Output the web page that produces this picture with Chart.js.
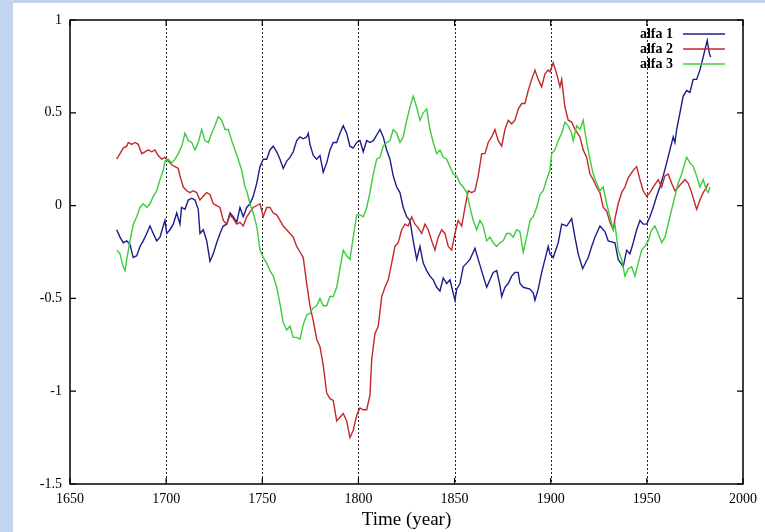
<!DOCTYPE html>
<html>
<head>
<meta charset="utf-8">
<script src="https://cdn.jsdelivr.net/npm/chart.js@4/dist/chart.umd.min.js"></script>
<style>
  html, body { margin: 0; padding: 0; }
  body { width: 765px; height: 532px; background: #c3d4ee; position: relative; overflow: hidden; }
  #chart { position: absolute; left: 13px; top: 3px; background: #fff; }
</style>
</head>
<body>
<canvas id="chart" width="752" height="529"></canvas>
<script>
// ─── DATA ────────────────────────────────────────────────────────────────────

const seriesLabels = ['alfa 1', 'alfa 2', 'alfa 3'];
const xTickValues  = [1650, 1700, 1750, 1800, 1850, 1900, 1950, 2000];
const yTickValues  = [-1.5, -1, -0.5, 0, 0.5, 1];
const axisTitle    = 'Time (year)';

const alfa1Years = [1674.3,1676.0,1677.7,1679.5,1681.2,1682.9,1684.7,1686.4,1688.1,1689.9,
  1691.6,1693.3,1695.1,1696.8,1698.5,1699.4,1700.3,1702.0,1703.7,1705.5,
  1707.2,1708.0,1709.8,1711.5,1713.3,1715.0,1716.7,1717.6,1719.3,1721.1,
  1722.8,1724.5,1726.3,1728.0,1729.7,1731.5,1733.2,1734.9,1736.7,1738.4,
  1740.1,1741.9,1743.6,1745.3,1747.1,1748.8,1750.5,1752.3,1754.0,1755.7,
  1757.5,1759.2,1760.9,1762.7,1764.4,1766.1,1767.9,1769.6,1771.3,1773.1,
  1773.9,1774.8,1776.5,1778.3,1780.0,1781.7,1783.5,1785.2,1786.9,1788.7,
  1790.4,1792.1,1793.9,1795.6,1797.3,1799.1,1800.8,1802.5,1804.3,1806.0,
  1807.7,1809.5,1811.2,1812.9,1814.7,1816.4,1818.1,1819.9,1821.6,1823.3,
  1825.1,1826.8,1828.5,1830.3,1832.0,1833.7,1835.5,1837.2,1838.9,1840.7,
  1842.4,1844.1,1845.9,1847.6,1850.2,1851.1,1852.8,1854.5,1856.3,1858.0,
  1860.6,1862.3,1864.9,1866.7,1868.4,1870.1,1871.9,1873.6,1874.5,1876.2,
  1877.9,1879.7,1881.4,1883.1,1884.0,1885.7,1889.2,1890.9,1891.8,1893.5,
  1895.3,1897.0,1898.7,1899.6,1901.3,1903.9,1905.7,1908.3,1910.9,1912.6,
  1914.3,1916.6,1919.5,1921.3,1923.0,1925.6,1928.2,1929.9,1933.4,1935.1,
  1937.7,1939.5,1941.2,1942.9,1944.7,1946.4,1948.1,1949.9,1951.6,1953.3,
  1955.1,1956.8,1958.5,1960.3,1962.0,1963.7,1964.6,1965.5,1967.2,1968.9,
  1970.7,1972.4,1974.1,1975.9,1977.6,1979.3,1980.2,1981.4,1982.5,1983.2];
const alfa1Values = [-0.13,-0.17,-0.20,-0.19,-0.21,-0.28,-0.27,-0.22,-0.19,-0.15,
  -0.11,-0.15,-0.19,-0.17,-0.11,-0.08,-0.15,-0.13,-0.10,-0.04,
  -0.10,-0.01,-0.02,0.03,0.04,0.03,-0.02,-0.15,-0.13,-0.19,
  -0.30,-0.26,-0.20,-0.15,-0.11,-0.10,-0.04,-0.06,-0.09,-0.01,
  -0.06,-0.01,0.01,0.05,0.12,0.21,0.25,0.25,0.30,0.32,
  0.29,0.25,0.20,0.24,0.26,0.29,0.35,0.37,0.36,0.37,
  0.39,0.33,0.27,0.25,0.27,0.18,0.23,0.30,0.34,0.34,
  0.39,0.43,0.39,0.32,0.31,0.34,0.35,0.29,0.35,0.34,
  0.35,0.38,0.41,0.37,0.30,0.25,0.16,0.10,0.07,-0.01,
  -0.06,-0.08,-0.19,-0.29,-0.22,-0.31,-0.35,-0.38,-0.40,-0.44,
  -0.46,-0.39,-0.42,-0.40,-0.51,-0.45,-0.42,-0.33,-0.31,-0.29,
  -0.23,-0.29,-0.38,-0.44,-0.40,-0.36,-0.35,-0.43,-0.49,-0.44,
  -0.42,-0.38,-0.36,-0.36,-0.42,-0.44,-0.45,-0.47,-0.51,-0.45,
  -0.36,-0.29,-0.22,-0.26,-0.28,-0.20,-0.10,-0.11,-0.07,-0.17,
  -0.26,-0.34,-0.28,-0.22,-0.17,-0.11,-0.14,-0.19,-0.20,-0.29,
  -0.33,-0.24,-0.26,-0.20,-0.13,-0.08,-0.10,-0.10,-0.06,-0.01,
  0.05,0.10,0.16,0.23,0.30,0.37,0.34,0.41,0.50,0.59,
  0.62,0.61,0.68,0.68,0.73,0.80,0.84,0.89,0.82,0.80];

const alfa2Years = [1674.3,1676.0,1677.7,1679.5,1680.3,1682.1,1683.8,1685.5,1687.3,1689.0,
  1690.7,1692.5,1694.2,1695.9,1697.7,1699.4,1701.1,1702.9,1704.6,1706.3,
  1707.2,1708.9,1710.7,1712.4,1714.1,1715.9,1717.6,1719.3,1721.1,1722.8,
  1724.5,1726.3,1728.0,1729.7,1731.5,1733.2,1734.9,1736.7,1738.4,1740.1,
  1741.9,1745.3,1748.8,1750.5,1752.3,1754.0,1755.7,1757.5,1759.2,1760.9,
  1762.7,1764.4,1766.1,1767.9,1769.6,1771.3,1773.1,1774.8,1776.5,1778.3,
  1780.0,1781.7,1783.5,1785.2,1786.9,1788.7,1790.4,1792.1,1793.9,1795.6,
  1797.3,1799.1,1800.8,1802.5,1804.3,1806.0,1806.9,1808.6,1810.3,1812.1,
  1813.8,1815.5,1817.3,1819.0,1820.7,1822.5,1824.2,1825.9,1827.7,1829.4,
  1831.1,1832.9,1834.6,1836.3,1838.1,1839.8,1841.5,1843.3,1845.0,1846.7,
  1848.5,1850.2,1851.9,1853.7,1855.4,1857.1,1858.9,1860.6,1862.3,1864.1,
  1865.8,1867.5,1869.3,1871.0,1872.7,1874.5,1876.2,1877.9,1879.7,1881.4,
  1883.1,1884.9,1886.6,1888.3,1890.1,1891.8,1893.5,1895.3,1897.0,1898.7,
  1899.6,1901.3,1903.1,1904.8,1905.7,1907.4,1909.1,1910.9,1912.6,1915.2,
  1916.9,1918.7,1920.4,1922.1,1923.9,1925.6,1927.3,1929.1,1930.8,1932.5,
  1933.4,1935.1,1936.9,1938.6,1940.3,1942.9,1944.7,1946.4,1948.1,1949.9,
  1951.6,1953.3,1955.9,1957.7,1959.4,1961.1,1962.9,1964.6,1968.1,1969.8,
  1971.5,1973.3,1975.0,1975.9,1977.6,1979.3,1981.1,1981.9];
const alfa2Values = [0.25,0.28,0.31,0.32,0.34,0.33,0.34,0.33,0.28,0.29,
  0.30,0.29,0.30,0.27,0.25,0.26,0.24,0.22,0.21,0.20,
  0.16,0.10,0.08,0.07,0.08,0.07,0.03,0.05,0.07,0.06,
  0.01,0.00,-0.01,-0.08,-0.10,-0.05,-0.07,-0.10,-0.09,-0.11,
  -0.06,-0.01,0.01,-0.06,-0.01,-0.01,-0.04,-0.05,-0.08,-0.11,
  -0.13,-0.15,-0.17,-0.22,-0.25,-0.28,-0.42,-0.54,-0.62,-0.72,
  -0.76,-0.86,-1.01,-1.04,-1.05,-1.16,-1.14,-1.12,-1.16,-1.25,
  -1.21,-1.13,-1.09,-1.10,-1.10,-1.02,-0.83,-0.69,-0.65,-0.49,
  -0.44,-0.40,-0.31,-0.22,-0.20,-0.13,-0.10,-0.11,-0.06,-0.10,
  -0.12,-0.15,-0.10,-0.13,-0.19,-0.24,-0.17,-0.13,-0.15,-0.22,
  -0.24,-0.15,-0.08,-0.11,-0.01,0.08,0.07,0.08,0.16,0.28,
  0.28,0.34,0.37,0.41,0.35,0.32,0.41,0.46,0.44,0.46,
  0.52,0.55,0.55,0.62,0.68,0.73,0.68,0.64,0.71,0.73,
  0.72,0.77,0.71,0.64,0.68,0.53,0.46,0.45,0.41,0.37,
  0.30,0.26,0.17,0.14,0.10,0.07,-0.01,-0.03,-0.09,-0.13,
  -0.07,0.01,0.07,0.10,0.15,0.19,0.21,0.14,0.08,0.05,
  0.07,0.10,0.14,0.10,0.16,0.17,0.12,0.08,0.12,0.14,
  0.12,0.07,0.01,-0.02,0.03,0.07,0.10,0.12];

const alfa3Years = [1674.3,1676.0,1677.7,1678.6,1679.5,1681.2,1682.9,1684.7,1686.4,1688.1,
  1689.9,1691.6,1693.3,1695.1,1696.8,1698.5,1699.4,1701.1,1702.9,1704.6,
  1706.3,1708.1,1709.8,1711.5,1713.3,1715.0,1716.7,1718.5,1720.2,1721.9,
  1723.7,1725.4,1727.1,1728.9,1730.6,1732.3,1734.1,1735.8,1737.5,1739.3,
  1741.0,1741.9,1743.6,1745.3,1747.1,1748.8,1750.5,1752.3,1754.0,1755.7,
  1757.5,1759.2,1760.9,1762.7,1764.4,1766.1,1767.9,1769.6,1771.3,1773.1,
  1774.8,1776.5,1778.3,1780.0,1781.7,1783.5,1785.2,1786.9,1788.7,1790.4,
  1792.1,1793.9,1795.6,1797.3,1799.1,1800.8,1802.5,1804.3,1806.0,1807.7,
  1809.5,1811.2,1812.9,1814.7,1816.4,1818.1,1819.9,1821.6,1823.3,1825.1,
  1826.8,1828.5,1830.3,1832.0,1833.7,1835.5,1837.2,1838.9,1840.7,1842.4,
  1844.1,1845.9,1847.6,1849.3,1851.1,1852.8,1854.5,1856.3,1858.0,1859.7,
  1861.5,1863.2,1864.9,1866.7,1868.4,1870.1,1871.9,1873.6,1875.3,1877.1,
  1878.8,1880.5,1882.3,1884.0,1885.7,1887.5,1889.2,1890.9,1892.7,1894.4,
  1896.1,1897.9,1899.6,1900.5,1902.2,1903.9,1905.7,1907.4,1909.1,1910.9,
  1911.7,1913.5,1915.2,1916.9,1918.7,1920.4,1922.1,1923.9,1925.6,1927.3,
  1929.1,1930.8,1932.5,1933.4,1935.1,1936.9,1938.6,1940.3,1942.1,1943.8,
  1945.5,1947.3,1949.0,1950.7,1952.5,1954.2,1955.9,1957.7,1959.4,1961.1,
  1962.9,1964.6,1966.3,1968.1,1969.8,1970.7,1972.4,1974.1,1975.9,1977.6,
  1979.3,1981.1,1981.9,1982.8];
const alfa3Values = [-0.24,-0.26,-0.33,-0.35,-0.29,-0.19,-0.10,-0.06,-0.01,0.01,
  -0.01,0.01,0.05,0.08,0.14,0.19,0.24,0.25,0.23,0.25,
  0.28,0.32,0.39,0.35,0.34,0.30,0.34,0.41,0.35,0.34,
  0.39,0.43,0.48,0.46,0.41,0.41,0.35,0.30,0.25,0.19,
  0.10,0.08,0.01,-0.04,-0.11,-0.24,-0.28,-0.31,-0.35,-0.38,
  -0.44,-0.53,-0.63,-0.67,-0.65,-0.71,-0.71,-0.72,-0.64,-0.59,
  -0.58,-0.55,-0.54,-0.50,-0.54,-0.54,-0.49,-0.49,-0.44,-0.34,
  -0.24,-0.27,-0.29,-0.17,-0.05,-0.05,-0.06,-0.01,0.07,0.17,
  0.25,0.26,0.32,0.34,0.35,0.41,0.39,0.34,0.37,0.46,
  0.53,0.59,0.53,0.46,0.50,0.52,0.41,0.34,0.28,0.30,
  0.26,0.25,0.21,0.17,0.16,0.12,0.10,0.07,-0.01,-0.08,
  -0.13,-0.08,-0.11,-0.19,-0.17,-0.20,-0.22,-0.20,-0.19,-0.15,
  -0.15,-0.17,-0.13,-0.14,-0.25,-0.17,-0.08,-0.06,-0.01,0.06,
  0.08,0.14,0.19,0.28,0.30,0.35,0.39,0.45,0.43,0.39,
  0.35,0.43,0.41,0.46,0.34,0.25,0.17,0.12,0.08,0.10,
  0.01,-0.06,-0.13,-0.10,-0.24,-0.29,-0.38,-0.34,-0.33,-0.38,
  -0.31,-0.24,-0.22,-0.19,-0.13,-0.11,-0.15,-0.20,-0.17,-0.10,
  -0.02,0.05,0.12,0.17,0.23,0.26,0.23,0.21,0.16,0.10,
  0.14,0.08,0.07,0.10];

const seriesColors = ['#1c1c8c', '#c4282c', '#3ccc3c'];

// ─── CHART ───────────────────────────────────────────────────────────────────

const serif = "'Liberation Serif', 'DejaVu Serif', serif";
const zip = (xs, ys) => xs.map((x, i) => ({ x, y: ys[i] }));

const frame = {
  id: 'frame',
  beforeDatasetsDraw(chart) {
    const { ctx, chartArea: a, scales: { x } } = chart;
    ctx.save();
    ctx.strokeStyle = '#222';
    ctx.lineWidth = 1;
    ctx.setLineDash([2, 2]);
    ctx.beginPath();
    x.ticks.forEach(t => {
      if (t.value <= x.min || t.value >= x.max) return;
      const px = Math.round(x.getPixelForValue(t.value)) + 0.5;
      ctx.moveTo(px, a.top); ctx.lineTo(px, a.bottom);
    });
    ctx.stroke();
    ctx.restore();
  },
  afterDraw(chart) {
    const { ctx, chartArea: a, scales: { x, y } } = chart;
    ctx.save();
    ctx.strokeStyle = '#000';
    ctx.lineWidth = 1.5;
    ctx.strokeRect(a.left, a.top, a.right - a.left, a.bottom - a.top);

    // inner tick marks on all four sides
    ctx.lineWidth = 1.2;
    ctx.beginPath();
    x.ticks.forEach(t => {
      const px = x.getPixelForValue(t.value);
      ctx.moveTo(px, a.top); ctx.lineTo(px, a.top + 6);
      ctx.moveTo(px, a.bottom); ctx.lineTo(px, a.bottom - 6);
    });
    y.ticks.forEach(t => {
      const py = y.getPixelForValue(t.value);
      ctx.moveTo(a.left, py); ctx.lineTo(a.left + 6, py);
      ctx.moveTo(a.right, py); ctx.lineTo(a.right - 6, py);
    });
    ctx.stroke();

    // key: text then line sample, top right
    ctx.font = 'bold 14px ' + serif;
    ctx.textAlign = 'right';
    ctx.textBaseline = 'middle';
    chart.data.datasets.forEach((ds, i) => {
      const ly = a.top + 14 + i * 15;
      ctx.fillStyle = '#000';
      ctx.fillText(ds.label, a.right - 70, ly);
      ctx.strokeStyle = ds.borderColor;
      ctx.lineWidth = 1.3;
      ctx.beginPath();
      ctx.moveTo(a.right - 60, ly); ctx.lineTo(a.right - 18, ly);
      ctx.stroke();
    });
    ctx.restore();
  }
};

const allYears = [alfa1Years, alfa2Years, alfa3Years];
const allValues = [alfa1Values, alfa2Values, alfa3Values];

new Chart(document.getElementById('chart'), {
  type: 'line',
  data: {
    datasets: seriesLabels.map((label, i) => ({
      label,
      data: zip(allYears[i], allValues[i]),
      borderColor: seriesColors[i],
      borderWidth: 1.4,
      pointRadius: 0,
      tension: 0,
      fill: false,
      order: 3 - i
    }))
  },
  options: {
    responsive: false,
    animation: false,
    devicePixelRatio: 1,
    layout: { padding: { left: 0, top: 17, right: 22, bottom: 0 } },
    plugins: { legend: { display: false }, tooltip: { enabled: false } },
    scales: {
      x: {
        type: 'linear',
        min: xTickValues[0],
        max: xTickValues[xTickValues.length - 1],
        afterBuildTicks: s => { s.ticks = xTickValues.map(v => ({ value: v })); },
        afterFit: s => { s.height = 48; },
        grid: { display: false, drawTicks: false },
        border: { display: false },
        ticks: { color: '#000', padding: 7, maxRotation: 0, font: { family: serif, size: 14 }, callback: v => String(v) },
        title: { display: true, text: axisTitle, color: '#000', padding: { top: 0, bottom: 1 }, font: { family: serif, size: 19 } }
      },
      y: {
        type: 'linear',
        min: yTickValues[0],
        max: yTickValues[yTickValues.length - 1],
        afterBuildTicks: s => { s.ticks = yTickValues.map(v => ({ value: v })); },
        afterFit: s => { s.width = 57; },
        grid: { display: false, drawTicks: false },
        border: { display: false },
        ticks: { color: '#000', padding: 8, font: { family: serif, size: 14 }, callback: v => String(v) }
      }
    }
  },
  plugins: [frame]
});
</script>
</body>
</html>
